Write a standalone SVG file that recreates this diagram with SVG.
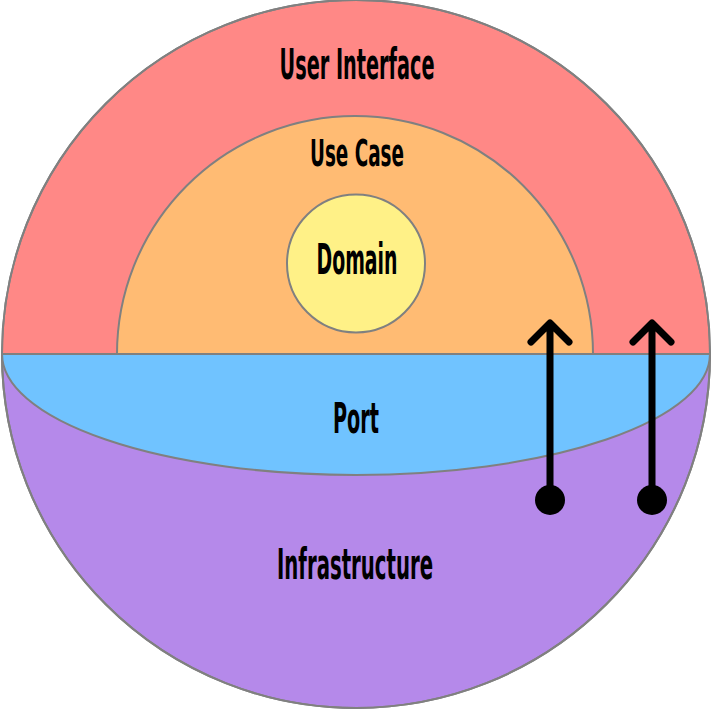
<svg xmlns="http://www.w3.org/2000/svg" width="712" height="710" viewBox="0 0 712 710">
<style>
.shape{stroke:#808080;stroke-width:2;}
.lbl{font-family:"Liberation Sans Narrow","DejaVu Sans Condensed","Liberation Sans",sans-serif;font-size:42px;font-weight:bold;fill:#000;text-anchor:middle;}
.conn{stroke:#000;stroke-width:7;stroke-linecap:round;stroke-linejoin:round;fill:none;}
</style>
<rect width="712" height="710" fill="#ffffff"/>
<g id="infrastructure">
<path class="shape" d="M2,354 A354,354 0 0 0 710,354 Z" fill="#b589ea"/>
<text class="lbl" x="355" y="579" textLength="156" lengthAdjust="spacingAndGlyphs">Infrastructure</text>
</g>
<g id="user-interface">
<path class="shape" d="M2,354 A354,354 0 0 1 710,354 Z" fill="#ff8886"/>
<text class="lbl" x="357" y="79" textLength="155" lengthAdjust="spacingAndGlyphs">User Interface</text>
</g>
<g id="port">
<path class="shape" d="M2,354 A354,121 0 0 0 710,354 Z" fill="#70c3ff"/>
<text class="lbl" x="356" y="433" textLength="46" lengthAdjust="spacingAndGlyphs">Port</text>
</g>
<g id="use-case">
<path class="shape" d="M117,354 A238,238 0 0 1 593,354" fill="#ffbb73"/>
<text class="lbl" x="357" y="166" style="font-size:38px" textLength="94" lengthAdjust="spacingAndGlyphs">Use Case</text>
</g>
<g id="domain">
<circle class="shape" cx="356" cy="263.5" r="69" fill="#fff187"/>
<text class="lbl" x="357" y="274" textLength="81" lengthAdjust="spacingAndGlyphs">Domain</text>
</g>
<path class="shape" d="M2,354 H710" fill="none"/>
<circle cx="356" cy="354" r="354" fill="none" class="shape"/>
<g id="connectors">
<path class="conn" d="M550,500 V324 M531,342 L550,323 L569,342"/>
<circle cx="550" cy="500" r="15" fill="#000"/>
<path class="conn" d="M652,500 V324 M633,342 L652,323 L671,342"/>
<circle cx="652" cy="500" r="15" fill="#000"/>
</g>
</svg>
